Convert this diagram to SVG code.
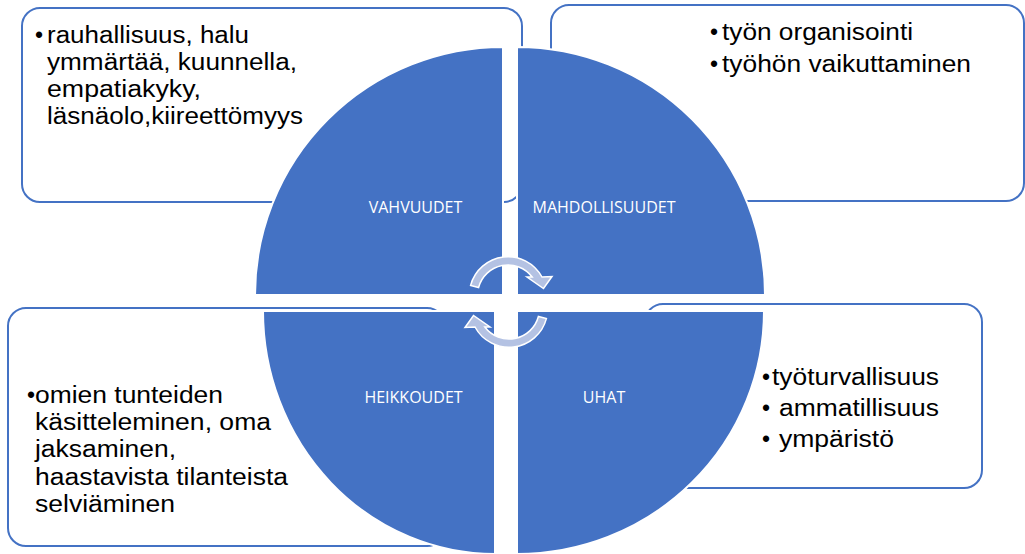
<svg xmlns="http://www.w3.org/2000/svg" width="1025" height="554" viewBox="0 0 1025 554">
<style>
.box{fill:#fff;stroke:#4472C4;stroke-width:2}
.quad{fill:#4472C4;stroke:#fff;stroke-width:2}
.txt{font-family:"Liberation Sans",Arial,sans-serif;font-size:23px;fill:#000}
.lbl{font-family:"Open Sans","Liberation Sans",sans-serif;font-size:16px;fill:#fff;text-anchor:middle}
.arr{fill:#B4C2E3;stroke:#fff;stroke-width:1.5;stroke-linejoin:miter}
</style>
<g id="box-vahvuudet">
<rect class="box" x="22" y="8" width="500" height="194" rx="18"/>
<text class="txt" x="35" y="43">•</text>
<text class="txt" x="47" y="43" textLength="202" lengthAdjust="spacingAndGlyphs">rauhallisuus, halu</text>
<text class="txt" x="47" y="70" textLength="250" lengthAdjust="spacingAndGlyphs">ymmärtää, kuunnella,</text>
<text class="txt" x="47" y="97" textLength="154" lengthAdjust="spacingAndGlyphs">empatiakyky,</text>
<text class="txt" x="47" y="124" textLength="256" lengthAdjust="spacingAndGlyphs">läsnäolo,kiireettömyys</text>
</g>
<g id="box-mahdollisuudet">
<rect class="box" x="551" y="5" width="473" height="196" rx="18"/>
<text class="txt" x="710" y="40">•</text>
<text class="txt" x="722" y="40" textLength="191" lengthAdjust="spacingAndGlyphs">työn organisointi</text>
<text class="txt" x="710" y="72">•</text>
<text class="txt" x="722" y="72" textLength="249" lengthAdjust="spacingAndGlyphs">työhön vaikuttaminen</text>
</g>
<g id="box-heikkoudet">
<rect class="box" x="8" y="308" width="437" height="238" rx="18"/>
<text class="txt" x="27" y="403">•</text>
<text class="txt" x="35" y="403" textLength="188" lengthAdjust="spacingAndGlyphs">omien tunteiden</text>
<text class="txt" x="35" y="430" textLength="236" lengthAdjust="spacingAndGlyphs">käsitteleminen, oma</text>
<text class="txt" x="35" y="457" textLength="141" lengthAdjust="spacingAndGlyphs">jaksaminen,</text>
<text class="txt" x="35" y="485" textLength="253" lengthAdjust="spacingAndGlyphs">haastavista tilanteista</text>
<text class="txt" x="35" y="512" textLength="140" lengthAdjust="spacingAndGlyphs">selviäminen</text>
</g>
<g id="box-uhat">
<rect class="box" x="645" y="304" width="337" height="184" rx="18"/>
<text class="txt" x="762" y="385">•</text>
<text class="txt" x="772" y="385" textLength="167" lengthAdjust="spacingAndGlyphs">työturvallisuus</text>
<text class="txt" x="762" y="416">•</text>
<text class="txt" x="779" y="416" textLength="160" lengthAdjust="spacingAndGlyphs">ammatillisuus</text>
<text class="txt" x="762" y="447">•</text>
<text class="txt" x="779" y="447" textLength="115" lengthAdjust="spacingAndGlyphs">ympäristö</text>
</g>
<g id="quad-vahvuudet">
<path class="quad" d="M503,295 L255,295 A248,248 0 0 1 503,47 Z"/>
<text class="lbl" x="415.5" y="213">VAHVUUDET</text>
</g>
<g id="quad-mahdollisuudet">
<path class="quad" d="M517,295 L517,47 A248,248 0 0 1 765,295 Z"/>
<text class="lbl" x="604" y="213">MAHDOLLISUUDET</text>
</g>
<g id="quad-heikkoudet">
<path class="quad" d="M495,311 L263,311 A232,243 0 0 0 495,554 Z"/>
<text class="lbl" x="413.5" y="403">HEIKKOUDET</text>
</g>
<g id="quad-uhat">
<path class="quad" d="M517,311 L764,311 A247,243 0 0 1 517,554 Z"/>
<text class="lbl" x="604" y="403">UHAT</text>
</g>
<g id="connectors">
<path class="arr" d="M470.6,285.4 A38.7,38.7 0 0 1 542,277 L552,276.5 L543.5,288.5 L527,277 L532.2,277 A30.4,30.4 0 0 0 478.6,287.5 Z"/>
<path class="arr" transform="rotate(180 508.5 302)" d="M470.6,285.4 A38.7,38.7 0 0 1 542,277 L552,276.5 L543.5,288.5 L527,277 L532.2,277 A30.4,30.4 0 0 0 478.6,287.5 Z"/>
</g>
</svg>
